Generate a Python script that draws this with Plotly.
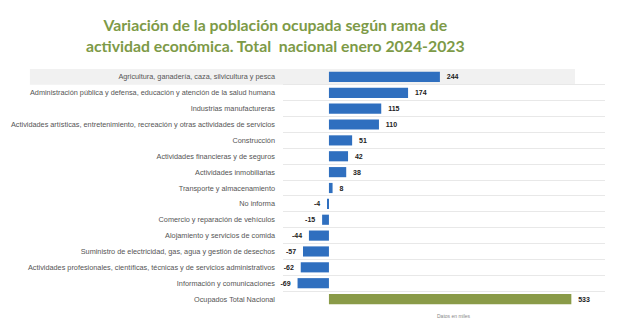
import plotly.graph_objects as go

categories = [
    "Agricultura, ganadería, caza, silvicultura y pesca",
    "Administración pública y defensa, educación y atención de la salud humana",
    "Industrias manufactureras",
    "Actividades artísticas, entretenimiento, recreación y otras actividades de servicios",
    "Construcción",
    "Actividades financieras y de seguros",
    "Actividades inmobiliarias",
    "Transporte y almacenamiento",
    "No informa",
    "Comercio y reparación de vehículos",
    "Alojamiento y servicios de comida",
    "Suministro de electricidad, gas, agua y gestión de desechos",
    "Actividades profesionales, científicas, técnicas y de servicios administrativos",
    "Información y comunicaciones",
    "Ocupados Total Nacional",
]
values = [244, 174, 115, 110, 51, 42, 38, 8, -4, -15, -44, -57, -62, -69, 533]

BLUE = "#2f6fbf"
GREEN = "#8a9b48"
colors = [GREEN if c == "Ocupados Total Nacional" else BLUE for c in categories]
labels = [f"  {v}  " for v in values]

fig = go.Figure(go.Bar(
    x=values, y=categories, orientation="h",
    marker=dict(color=colors, line=dict(width=0)),
    width=0.64,
    text=labels, textposition="outside", cliponaxis=False,
    textfont=dict(family="Liberation Sans", size=7, color="#222", weight="bold"),
))

fig.update_layout(
    width=620, height=321,
    margin=dict(l=283, r=15, t=69, b=14),
    paper_bgcolor="white", plot_bgcolor="rgba(0,0,0,0)",
    showlegend=False,
    font=dict(family="Liberation Sans", size=7, color="#555"),
    title=dict(
        text="<b>Variación de la población ocupada según rama de<br>actividad económica. Total  nacional enero 2024-2023</b>",
        xref="container", x=0.444, xanchor="center",
        yref="container", y=0.902, yanchor="top",
        font=dict(family="Lato", size=15.8, color="#7d9a47"),
    ),
    xaxis=dict(range=[-101, 607], showgrid=False, zeroline=False,
               showticklabels=False, fixedrange=True),
    yaxis=dict(autorange="reversed", type="category", showgrid=True,
               gridcolor="#e8e8e8", gridwidth=1, tickson="boundaries",
               ticks="", ticklabelstandoff=7,
               tickfont=dict(family="Liberation Sans", size=7.3, color="#555")),
    shapes=[dict(type="rect", xref="paper", yref="y domain",
                 x0=-0.786, x1=0.907, y0=1 - 1/15, y1=1,
                 fillcolor="#f1f1f1", line=dict(width=0), layer="below")],
    annotations=[dict(text="Datos en miles", xref="paper", yref="paper",
                      x=0.53, y=-0.015, xanchor="center", yanchor="top",
                      showarrow=False,
                      font=dict(family="Liberation Sans", size=5, color="#888"))],
)

fig.write_html("out.html")
